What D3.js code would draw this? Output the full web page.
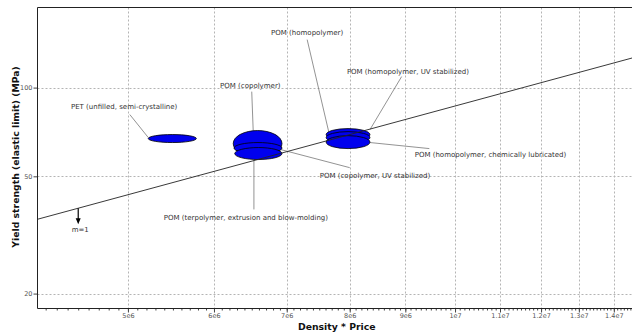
<!DOCTYPE html>
<html>
<head>
<meta charset="utf-8">
<script src="https://cdn.jsdelivr.net/npm/d3@7"></script>
<style>
  body { margin: 0; background: #fff; }
  #chart { width: 632px; height: 333px; }
  text { font-family: "DejaVu Sans", Verdana, sans-serif; }
</style>
</head>
<body>
<div id="chart"></div>
<script>
// material bubbles: range of density*price and yield strength
const materials = [
  "PET (unfilled, semi-crystalline)",
  "POM (copolymer)",
  "POM (copolymer, UV stabilized)",
  "POM (terpolymer, extrusion and blow-molding)",
  "POM (homopolymer)",
  "POM (homopolymer, UV stabilized)",
  "POM (homopolymer, chemically lubricated)"
];
const priceLow  = [5.22e6, 6.25e6, 6.26e6, 6.27e6, 7.61e6, 7.61e6, 7.61e6];
const priceHigh = [5.78e6, 6.93e6, 6.93e6, 6.93e6, 8.35e6, 8.35e6, 8.35e6];
const strengthLow  = [65.1, 58.3, 59.7, 57.0, 66.1, 64.6, 62.1];
const strengthHigh = [69.3, 71.5, 65.1, 62.6, 72.6, 70.9, 68.7];

// label anchors and leader lines, in data units (price, strength)
const labelPrice    = [4.96e6, 6.48e6, 8.44e6, 6.42e6, 7.31e6, 9.05e6, 1.078e7];
const labelStrength = [86.2, 101.6, 50.3, 36.2, 153.7, 113.3, 59.3];
const leaderFrom = [[5.02e6, 81.0], [6.50e6, 96.9], [6.80e6, 62.6], [6.53e6, 38.6], [7.31e6, 145.5], [8.93e6, 109.0], [9.47e6, 62.1]];
const leaderTo   = [[5.22e6, 67.7], [6.52e6, 71.5], [8.00e6, 53.5], [6.53e6, 57.0], [7.67e6, 68.2], [8.35e6, 72.0], [8.35e6, 65.1]];

// selection line of slope m=1 : strength = lineC * price
const lineC = 8.66e-6;
const arrowPrice = 4.5e6;

const xTicks = [5e6, 6e6, 7e6, 8e6, 9e6, 1e7, 1.1e7, 1.2e7, 1.3e7, 1.4e7];
const xTickLabels = ["5e6", "6e6", "7e6", "8e6", "9e6", "1e7", "1.1e7", "1.2e7", "1.3e7", "1.4e7"];
const yTicks = [20, 50, 100];
const xDomain = [4.128e6, 1.455e7];
const yDomain = [17.8, 187];

function makeChart(parent) {
  const width = 632, height = 333;
  const left = 37.5, right = 632, top = 7.5, bottom = 308.5;

  const svg = d3.select(parent).append("svg")
    .attr("width", width)
    .attr("height", height);

  const x = d3.scaleLog().domain(xDomain).range([left, right]);
  const y = d3.scaleLog().domain(yDomain).range([bottom, top]);

  svg.append("clipPath").attr("id", "plot")
    .append("rect")
    .attr("x", left).attr("y", top)
    .attr("width", right - left).attr("height", bottom - top);

  // grid
  const grid = svg.append("g").attr("stroke", "#b4b4b4").attr("stroke-dasharray", "2,2");
  grid.selectAll("line.v").data(xTicks).enter().append("line")
    .attr("x1", d => Math.round(x(d)) + 0.5).attr("x2", d => Math.round(x(d)) + 0.5)
    .attr("y1", top).attr("y2", bottom);
  grid.selectAll("line.h").data(yTicks).enter().append("line")
    .attr("y1", d => Math.round(y(d)) + 0.5).attr("y2", d => Math.round(y(d)) + 0.5)
    .attr("x1", left).attr("x2", right);

  // x axis with minor ticks every 1e5
  const minor = d3.range(42, 146).map(i => i * 1e5);
  const xAxis = d3.axisBottom(x)
    .tickValues(minor)
    .tickSize(2)
    .tickFormat("");
  svg.append("g").attr("transform", `translate(0,${bottom})`).call(xAxis)
    .call(g => g.select(".domain").remove())
    .call(g => g.selectAll("line").attr("stroke", "#444"));

  const xMajor = d3.axisBottom(x)
    .tickValues(xTicks)
    .tickSize(4)
    .tickFormat((d, i) => xTickLabels[i]);
  svg.append("g").attr("transform", `translate(0,${bottom})`).call(xMajor)
    .call(g => g.select(".domain").remove())
    .call(g => g.selectAll("line").attr("stroke", "#444"))
    .call(g => g.selectAll("text")
      .attr("font-family", "DejaVu Sans")
      .attr("font-size", 6.5)
      .attr("fill", "#555")
      .attr("dy", "0.4em")
      .attr("y", 7));

  const yAxis = d3.axisLeft(y)
    .tickValues(yTicks)
    .tickSize(4)
    .tickFormat(d3.format("d"));
  svg.append("g").attr("transform", `translate(${left},0)`).call(yAxis)
    .call(g => g.select(".domain").remove())
    .call(g => g.selectAll("line").attr("stroke", "#444"))
    .call(g => g.selectAll("text")
      .attr("font-family", "DejaVu Sans")
      .attr("font-size", 6.5)
      .attr("fill", "#555")
      .attr("x", -5));

  // frame: left, bottom, top
  svg.append("path")
    .attr("d", `M${right},${top}H${left}V${bottom}H${right}`)
    .attr("fill", "none")
    .attr("stroke", "#222");

  const plot = svg.append("g").attr("clip-path", "url(#plot)");

  // leaders under bubbles
  plot.selectAll("line.leader").data(materials).enter().append("line")
    .attr("x1", (d, i) => x(leaderFrom[i][0])).attr("y1", (d, i) => y(leaderFrom[i][1]))
    .attr("x2", (d, i) => x(leaderTo[i][0])).attr("y2", (d, i) => y(leaderTo[i][1]))
    .attr("stroke", "#777")
    .attr("stroke-width", 0.8);

  plot.selectAll("ellipse").data(materials).enter().append("ellipse")
    .attr("cx", (d, i) => (x(priceLow[i]) + x(priceHigh[i])) / 2)
    .attr("cy", (d, i) => (y(strengthLow[i]) + y(strengthHigh[i])) / 2)
    .attr("rx", (d, i) => (x(priceHigh[i]) - x(priceLow[i])) / 2)
    .attr("ry", (d, i) => (y(strengthLow[i]) - y(strengthHigh[i])) / 2)
    .attr("fill", "#0000ee")
    .attr("stroke", "#000")
    .attr("stroke-width", 0.8);

  // m=1 line
  plot.append("line")
    .attr("x1", x(xDomain[0])).attr("y1", y(lineC * xDomain[0]))
    .attr("x2", x(xDomain[1])).attr("y2", y(lineC * xDomain[1]))
    .attr("stroke", "#222")
    .attr("stroke-width", 0.9);

  const ax = x(arrowPrice), ay = y(lineC * arrowPrice);
  svg.append("line")
    .attr("x1", ax).attr("y1", ay).attr("x2", ax).attr("y2", ay + 11)
    .attr("stroke", "#000").attr("stroke-width", 1.2);
  svg.append("path")
    .attr("d", `M${ax - 2.5},${ay + 10}L${ax + 2.5},${ay + 10}L${ax},${ay + 16}Z`)
    .attr("fill", "#000");
  svg.append("text")
    .attr("x", ax + 2).attr("y", ay + 24)
    .attr("text-anchor", "middle")
    .attr("font-size", 7).attr("fill", "#333")
    .text("m=1");

  svg.selectAll("text.label").data(materials).enter().append("text")
    .attr("class", "label")
    .attr("x", (d, i) => x(labelPrice[i]))
    .attr("y", (d, i) => y(labelStrength[i]))
    .attr("dy", "0.35em")
    .attr("text-anchor", "middle")
    .attr("font-size", 7)
    .attr("fill", "#333")
    .text(d => d);

  // axis titles
  svg.append("text")
    .attr("x", (left + right) / 2 + 2).attr("y", 330)
    .attr("text-anchor", "middle")
    .attr("font-size", 9.3).attr("font-weight", "bold")
    .attr("fill", "#111")
    .text("Density * Price");
  svg.append("text")
    .attr("transform", "translate(19,157) rotate(-90)")
    .attr("text-anchor", "middle")
    .attr("font-size", 9.3).attr("font-weight", "bold")
    .attr("fill", "#111")
    .text("Yield strength (elastic limit) (MPa)");
}

makeChart(document.getElementById("chart"));
</script>
</body>
</html>
